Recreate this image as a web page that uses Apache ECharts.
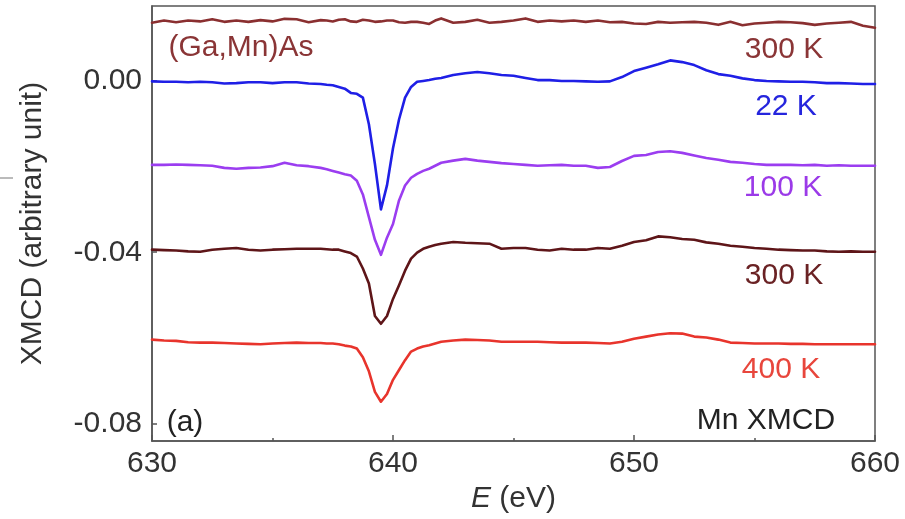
<!DOCTYPE html>
<html>
<head>
<meta charset="utf-8">
<script src="https://cdn.jsdelivr.net/npm/echarts@6/dist/echarts.min.js"></script>
<style>
  html, body { margin: 0; padding: 0; background: #fff; }
  #chart { width: 905px; height: 519px; }
</style>
</head>
<body>
<div id="chart"></div>
<script>
// Photon energy grid (eV), finer sampling across the L3 edge
const energy = [630,630.5,631,631.5,632,632.5,633,633.5,634,634.5,635,635.5,636,636.5,637,
  637.25,637.5,637.75,638,638.25,638.5,638.75,639,639.25,639.5,639.75,640,640.25,640.5,640.75,641,641.25,641.5,641.75,642,
  642.5,643,643.5,644,644.5,645,645.5,646,646.5,647,647.5,648,648.5,649,649.5,650,650.5,651,651.5,652,652.5,653,653.5,654,654.5,655,655.5,656,656.5,657,657.5,658,658.5,659,659.5,660];

// (Ga,Mn)As reference spectrum at 300 K (offset)
const xmcdGaMnAs300K = [0.0136,0.0141,0.0137,0.0141,0.0139,0.0144,0.0138,0.0141,0.0138,0.0142,0.0139,0.0145,0.0144,0.0137,0.0142,
  0.0141,0.0139,0.0143,0.0144,0.0139,0.0138,0.0143,0.0141,0.0138,0.0139,0.0141,0.0141,0.0137,0.0136,0.0138,0.0138,0.0136,0.0133,0.0141,0.0146,
  0.0136,0.0138,0.0143,0.0136,0.0138,0.0141,0.0146,0.0138,0.0141,0.0139,0.0141,0.0138,0.0141,0.0137,0.0138,0.0134,0.0133,0.0138,0.0136,0.0137,0.0138,0.0136,0.0131,0.0138,0.0130,0.0134,0.0136,0.0138,0.0137,0.0135,0.0131,0.0134,0.0136,0.0138,0.0129,0.0124];

// Mn XMCD at 22 K
const xmcd22K = [-0.0001,-0.0002,-0.0002,-0.0003,-0.0002,-0.0003,-0.0006,-0.0005,-0.0003,-0.0003,-0.0005,-0.0003,-0.0003,-0.0006,-0.0007,
  -0.0009,-0.0010,-0.0014,-0.0018,-0.0028,-0.0030,-0.0039,-0.0101,-0.0194,-0.0300,-0.0244,-0.0157,-0.0090,-0.0039,-0.0014,-0.0002,0.0000,0.0002,0.0005,0.0007,
  0.0014,0.0018,0.0021,0.0018,0.0014,0.0012,0.0007,0.0002,0.0002,0.0000,0.0000,-0.0001,-0.0002,-0.0001,0.0009,0.0023,0.0031,0.0039,0.0048,0.0044,0.0037,0.0025,0.0016,0.0012,0.0006,0.0002,0.0000,-0.0001,-0.0002,-0.0002,-0.0003,-0.0005,-0.0005,-0.0006,-0.0007,-0.0007];

// Mn XMCD at 100 K (offset)
const xmcd100K = [-0.0196,-0.0196,-0.0195,-0.0196,-0.0197,-0.0198,-0.0203,-0.0205,-0.0203,-0.0202,-0.0199,-0.0191,-0.0197,-0.0199,-0.0203,
  -0.0206,-0.0210,-0.0214,-0.0218,-0.0221,-0.0233,-0.0265,-0.0318,-0.0371,-0.0406,-0.0366,-0.0334,-0.0279,-0.0244,-0.0226,-0.0217,-0.0210,-0.0205,-0.0198,-0.0191,
  -0.0186,-0.0182,-0.0186,-0.0189,-0.0192,-0.0194,-0.0196,-0.0198,-0.0197,-0.0196,-0.0198,-0.0198,-0.0203,-0.0201,-0.0187,-0.0175,-0.0173,-0.0166,-0.0164,-0.0168,-0.0174,-0.0180,-0.0184,-0.0189,-0.0191,-0.0194,-0.0196,-0.0196,-0.0196,-0.0197,-0.0196,-0.0198,-0.0197,-0.0198,-0.0198,-0.0198];

// Mn XMCD at 300 K (offset)
const xmcd300K = [-0.0394,-0.0395,-0.0396,-0.0398,-0.0399,-0.0394,-0.0392,-0.0390,-0.0394,-0.0396,-0.0394,-0.0393,-0.0392,-0.0392,-0.0392,
  -0.0393,-0.0394,-0.0394,-0.0398,-0.0402,-0.0410,-0.0438,-0.0473,-0.0549,-0.0567,-0.0549,-0.0509,-0.0477,-0.0443,-0.0415,-0.0401,-0.0392,-0.0387,-0.0383,-0.0380,
  -0.0376,-0.0378,-0.0379,-0.0380,-0.0392,-0.0390,-0.0390,-0.0394,-0.0396,-0.0392,-0.0394,-0.0394,-0.0390,-0.0392,-0.0385,-0.0376,-0.0372,-0.0363,-0.0365,-0.0369,-0.0371,-0.0377,-0.0380,-0.0385,-0.0387,-0.0390,-0.0392,-0.0394,-0.0395,-0.0396,-0.0396,-0.0398,-0.0399,-0.0398,-0.0399,-0.0399];

// Mn XMCD at 400 K (offset)
const xmcd400K = [-0.0604,-0.0606,-0.0607,-0.0610,-0.0611,-0.0611,-0.0612,-0.0613,-0.0614,-0.0615,-0.0613,-0.0612,-0.0611,-0.0612,-0.0612,
  -0.0613,-0.0613,-0.0615,-0.0618,-0.0620,-0.0625,-0.0645,-0.0678,-0.0726,-0.0749,-0.0731,-0.0698,-0.0675,-0.0652,-0.0632,-0.0625,-0.0620,-0.0617,-0.0613,-0.0609,
  -0.0606,-0.0604,-0.0605,-0.0606,-0.0609,-0.0609,-0.0609,-0.0609,-0.0610,-0.0611,-0.0611,-0.0611,-0.0612,-0.0613,-0.0609,-0.0602,-0.0597,-0.0592,-0.0589,-0.0590,-0.0597,-0.0599,-0.0604,-0.0611,-0.0612,-0.0613,-0.0613,-0.0613,-0.0614,-0.0614,-0.0615,-0.0615,-0.0615,-0.0615,-0.0615,-0.0615];

// Axis ticks
const xTicks = [630, 640, 650, 660];
const yTicks = [-0.08, -0.04, 0];

const FONT = '"Liberation Sans", Arial, Helvetica, sans-serif';
const pairs = arr => energy.map((e, i) => [e, arr[i]]);

const curves = [
  { name: '(Ga,Mn)As 300 K', data: xmcdGaMnAs300K, color: '#8a2f30' },
  { name: '22 K', data: xmcd22K, color: '#1f1fe6' },
  { name: '100 K', data: xmcd100K, color: '#9b3df0' },
  { name: '300 K', data: xmcd300K, color: '#5e1518' },
  { name: '400 K', data: xmcd400K, color: '#e8342c' }
];

const labelText = (text, x, y, color) => ({
  type: 'text', x: x, y: y, silent: true,
  style: { text: text, fill: color, font: '30px ' + FONT, align: 'center', verticalAlign: 'middle' }
});

const chart = echarts.init(document.getElementById('chart'), null, { renderer: 'canvas' });
chart.setOption({
  backgroundColor: '#ffffff',
  animation: false,
  grid: {
    left: 152, right: 30, top: 6, bottom: 72,
    show: true, borderColor: '#555', borderWidth: 1.5, backgroundColor: 'transparent'
  },
  xAxis: {
    type: 'value', min: 630, max: 660, interval: 10,
    name: '{i|E} (eV)', nameLocation: 'middle', nameGap: 33,
    nameTextStyle: {
      fontSize: 30, color: '#333', fontFamily: FONT,
      rich: { i: { fontSize: 30, fontStyle: 'italic', color: '#333', fontFamily: FONT } }
    },
    axisLine: { show: true, onZero: false, lineStyle: { color: '#555', width: 1.5 } },
    axisTick: { show: true, inside: true, length: 6, lineStyle: { color: '#555', width: 1.5 } },
    minorTick: { show: true, splitNumber: 2, length: 3, lineStyle: { color: '#555', width: 1.5 } },
    axisLabel: { fontSize: 30, color: '#333', fontFamily: FONT, margin: 8, customValues: xTicks },
    splitLine: { show: false }
  },
  yAxis: {
    type: 'value', min: -0.0841, max: 0.0175,
    name: 'XMCD (arbitrary unit)', nameLocation: 'middle', nameGap: 104,
    nameTextStyle: { fontSize: 30, color: '#333', fontFamily: FONT },
    axisLine: { show: true, onZero: false, lineStyle: { color: '#555', width: 1.5 } },
    axisTick: { show: true, inside: true, length: 5, customValues: yTicks, lineStyle: { color: '#555', width: 1.5 } },
    axisLabel: {
      fontSize: 30, color: '#333', fontFamily: FONT, margin: 10, customValues: yTicks,
      formatter: v => v.toFixed(2)
    },
    splitLine: { show: false }
  },
  series: curves.map(c => ({
    name: c.name, type: 'line', data: pairs(c.data),
    showSymbol: false, symbol: 'none', smooth: false,
    lineStyle: { color: c.color, width: 2.6, join: 'round', cap: 'round' },
    itemStyle: { color: c.color }
  })),
  graphic: [
    // small stray rule at the left margin
    { type: 'line', silent: true, shape: { x1: 0, y1: 178, x2: 13, y2: 178 }, style: { stroke: '#777', lineWidth: 1 } },
    labelText('(Ga,Mn)As', 241, 48, '#8a3536'),
    labelText('300 K', 784, 50, '#8a3536'),
    labelText('22 K', 786, 107, '#2525dd'),
    labelText('100 K', 783, 188, '#9b3ae8'),
    labelText('300 K', 784, 276, '#6a2224'),
    labelText('400 K', 781, 370, '#e8463c'),
    labelText('Mn XMCD', 766, 421, '#222'),
    labelText('(a)', 185, 423, '#222')
  ]
});
</script>
</body>
</html>
